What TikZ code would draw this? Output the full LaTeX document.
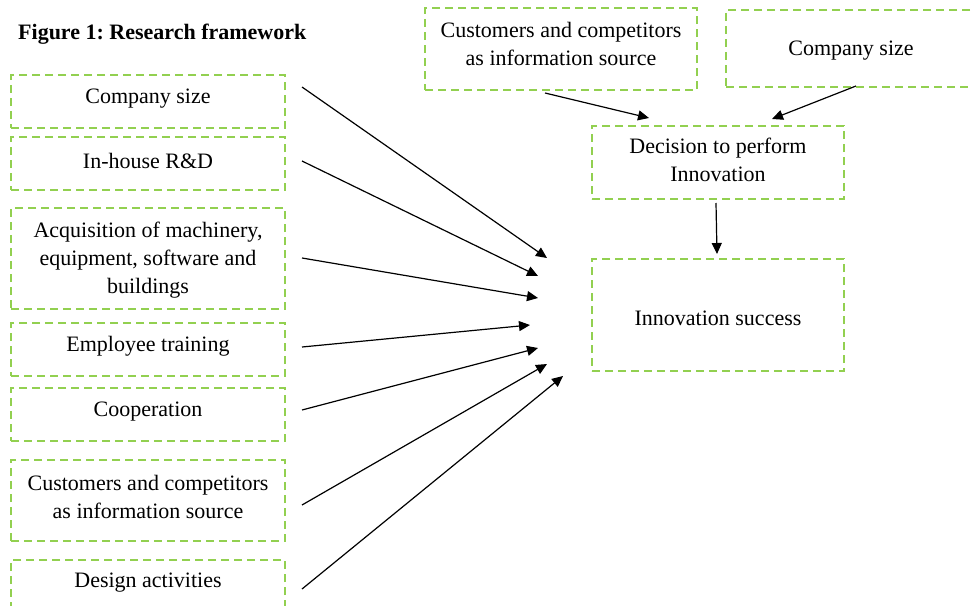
\documentclass[tikz,border=0pt]{standalone}
\usepackage{fontspec}
\setmainfont{Liberation Serif}
\usetikzlibrary{arrows.meta}
\definecolor{boxgreen}{HTML}{92D050}
\frenchspacing
\begin{document}
\begin{tikzpicture}[x=1pt,y=-1pt,
  box/.style={draw=boxgreen, line width=1.6pt, dash pattern=on 8pt off 5pt,
    inner sep=0pt, minimum width=#1},
  box/.default=274pt,
  lbl/.style={font=\fontsize{22}{28}\selectfont, align=center, inner sep=0pt},
  ttl/.style={font=\fontsize{22}{28}\selectfont\bfseries, inner sep=0pt, anchor=base west},
  link/.style={line width=1.2pt, -{Triangle[length=11pt,width=10pt]}}]
\useasboundingbox (0,0) rectangle (971,605);

% title
\node[ttl] (title) at (18,39) {Figure 1: Research framework};

% determinants (left column)
\node[box, minimum height=53pt]  (b1) at (148,101.5) {};
\node[box, minimum height=53pt]  (b2) at (148,163.5) {};
\node[box, minimum height=101pt] (b3) at (148,258.5) {};
\node[box, minimum height=53pt]  (b4) at (148,349.5) {};
\node[box, minimum height=53pt]  (b5) at (148,414.5) {};
\node[box, minimum height=81pt]  (b6) at (148,500.5) {};
\node[box, minimum height=60pt]  (b7) at (148,590) {};

\node[lbl] (t1) at (148,98.5)  {Company size};
\node[lbl] (t2) at (148,160.5) {In-house R\&D};
\node[lbl] (t3) at (148,260.5) {Acquisition of machinery,\\equipment, software and\\buildings};
\node[lbl] (t4) at (148,346.5) {Employee training};
\node[lbl] (t5) at (148,411.5) {Cooperation};
\node[lbl] (t6) at (148,497) {Customers and competitors\\as information source};
\node[lbl] (t7) at (148,582.5) {Design activities};

% decision stage (right part)
\node[box=272pt, minimum height=82pt]  (r1) at (561,49)    {};
\node[box=259pt, minimum height=77pt]  (r2) at (855.5,48.5) {};
\node[box=252pt, minimum height=73pt]  (dec) at (718,162.5) {};
\node[box=252pt, minimum height=112pt] (suc) at (718,315)   {};

\node[lbl] (tr1) at (561,44)  {Customers and competitors\\as information source};
\node[lbl] (tr2) at (851,51)  {Company size};
\node[lbl] (tdec) at (718,160) {Decision to perform\\Innovation};
\node[lbl] (tsuc) at (718,318.5) {Innovation success};

% arrow end points
\coordinate (s1) at (302,87);  \coordinate (e1) at (547,258);
\coordinate (s2) at (302,161); \coordinate (e2) at (538,276);
\coordinate (s3) at (302,258); \coordinate (e3) at (538,298);
\coordinate (s4) at (302,347); \coordinate (e4) at (530,325);
\coordinate (s5) at (302,410); \coordinate (e5) at (538,348);
\coordinate (s6) at (302,505); \coordinate (e6) at (547,364);
\coordinate (s7) at (302,589); \coordinate (e7) at (563,376);
\coordinate (sr1) at (545,93);  \coordinate (er1) at (649,118);
\coordinate (sr2) at (856,86);  \coordinate (er2) at (772,119);
\coordinate (sd) at (716,203);  \coordinate (ed) at (717,254);

\foreach \i in {1,...,7} { \draw[link] (s\i) -- (e\i); }
\draw[link] (sr1) -- (er1);
\draw[link] (sr2) -- (er2);
\draw[link] (sd) -- (ed);
\end{tikzpicture}
\end{document}
